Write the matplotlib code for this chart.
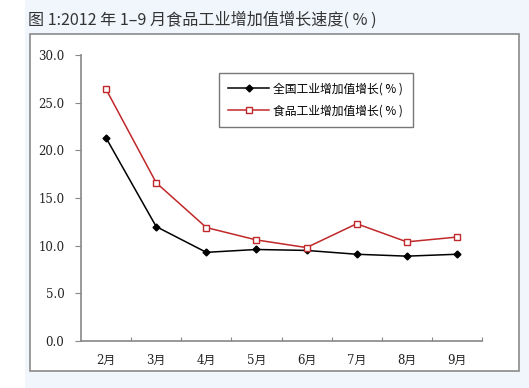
import matplotlib
matplotlib.use("Agg")
import matplotlib.pyplot as plt
from matplotlib.patches import Rectangle

months = ["2月", "3月", "4月", "5月", "6月", "7月", "8月", "9月"]
national = [21.3, 12.0, 9.3, 9.6, 9.5, 9.1, 8.9, 9.1]
food = [26.4, 16.6, 11.9, 10.6, 9.8, 12.3, 10.4, 10.9]
yticks = [0, 5, 10, 15, 20, 25, 30]
title = "图 1:2012 年 1–9 月食品工业增加值增长速度( % )"
labels = ["全国工业增加值增长( % )", "食品工业增加值增长( % )"]

W, H = 529, 388
fig = plt.figure(figsize=(W / 100, H / 100), dpi=100)
fig.patch.set_facecolor("white")

def px(x0, y0, x1, y1):
    # pixel box -> figure fraction (left, bottom, width, height)
    return (x0 / W, 1 - y1 / H, (x1 - x0) / W, (y1 - y0) / H)

# page background and white chart frame
l, b, w, h = px(25, 0, 529, 388)
fig.patches.append(Rectangle((l, b), w, h, transform=fig.transFigure,
                             facecolor="#f1f6fc", edgecolor="none", zorder=0))
l, b, w, h = px(30, 34, 519, 371)
fig.patches.append(Rectangle((l, b), w, h, transform=fig.transFigure,
                             facecolor="white", edgecolor="#8a8a8a", lw=1.2, zorder=1))

fig.text(28 / W, 1 - 20 / H, title, fontsize=11.6, va="center", ha="left",
         family=["Noto Sans CJK SC", "DejaVu Sans"], color="#333333")

ax = fig.add_axes(px(81, 55, 482, 341))
ax.set_zorder(3)
ax.set_facecolor("none")
x = range(len(months))
ax.plot(x, national, color="black", lw=1.1, marker="D", ms=3.5,
        mfc="black", mec="black", label=labels[0])
ax.plot(x, food, color="#c0282a", lw=1.1, marker="s", ms=4.5,
        mfc="white", mec="#c0282a", mew=1.0, label=labels[1])

ax.set_xlim(-0.5, len(months) - 0.5)
ax.set_ylim(0, 30)
ax.set_yticks(yticks)
ax.set_yticklabels(["%.1f" % v for v in yticks], family="DejaVu Serif",
                   fontsize=8.5, color="#222222")
ax.set_xticks([i + 0.5 for i in x])
ax.set_xticklabels([])
ax.set_xticks(list(x), minor=True)
ax.set_xticklabels(months, minor=True, fontsize=8.5,
                   family=["DejaVu Serif", "Noto Sans CJK SC"], color="#222222")
ax.tick_params(axis="x", which="major", direction="in", length=3, color="#888888")
ax.tick_params(axis="x", which="minor", length=0, pad=9)
ax.tick_params(axis="y", direction="out", length=4, color="#888888", pad=8)
for s in ["top", "right"]:
    ax.spines[s].set_visible(False)
for s in ["left", "bottom"]:
    ax.spines[s].set_color("#888888")
    ax.spines[s].set_linewidth(1.2)

leg = ax.legend(loc="upper left", bbox_to_anchor=(219 / W, 1 - 73 / H),
                bbox_transform=fig.transFigure, fancybox=False, framealpha=1,
                edgecolor="#777777", prop={"family": ["Noto Sans CJK SC", "DejaVu Sans"], "size": 8.5},
                handlelength=3.4, borderpad=0.8, labelspacing=0.75,
                borderaxespad=0, handletextpad=0.4)
leg.get_frame().set_linewidth(1.0)
leg.get_frame().set_boxstyle("square", pad=0)

fig.savefig("out.png", dpi=100)
